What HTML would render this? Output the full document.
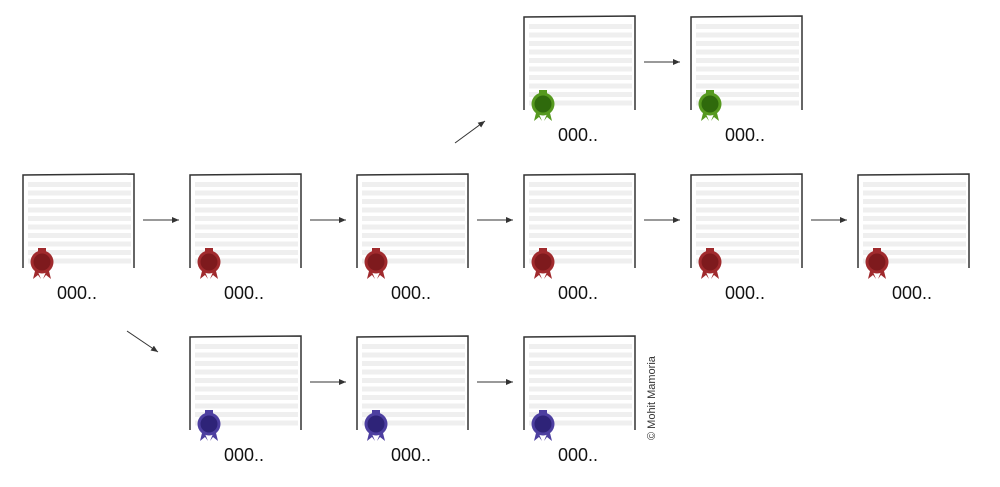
<!DOCTYPE html>
<html><head><meta charset="utf-8"><style>
body{margin:0;background:#fff;width:1000px;height:482px;overflow:hidden;font-family:"Liberation Sans",sans-serif}
</style></head><body>
<svg id="s" width="1000" height="482" viewBox="0 0 1000 482">
<defs><marker id="ah" markerWidth="8" markerHeight="8" refX="7" refY="4" orient="auto"><path d="M0,1 L7,4 L0,7 Z" fill="#333"/></marker></defs>
<text x="655" y="440" transform="rotate(-90 655 440)" font-size="11" fill="#333" font-family="Liberation Sans, sans-serif">© Mohit Mamoria</text>
</svg>
<script>
const colX=[23,190,357,524,691,858];
const rows=[{top:175,cols:[0,1,2,3,4,5],color:'#7e1a1d',light:'#a02a2d'},{top:17,cols:[3,4],color:'#2f6a0c',light:'#56991f'},{top:337,cols:[1,2,3],color:'#2e2378',light:'#4d3fa0'}];
const s=document.getElementById('s');
const NS='http://www.w3.org/2000/svg';
function el(t,a,p){const e=document.createElementNS(NS,t);for(const k in a)e.setAttribute(k,a[k]);(p||s).appendChild(e);return e;}
rows.forEach((r,ri)=>{
 r.cols.forEach((c,i)=>{
  const x=colX[c],y=r.top;
  const g=el('g',{});
  
  
  for(let k=0;k<10;k++){el('rect',{x:x+5,y:y+7+k*8.5,width:103,height:5,fill:'#efefef'},g);}
  el('path',{d:`M${x},${y+93} L${x},${y} L${x+111},${y-1} L${x+111},${y+93}`,fill:'none',stroke:'#333','stroke-width':1.5},g);
  const cx=x+19,cy=y+87;
  el('path',{d:`M${cx-6},${cy+5} L${cx-9},${cy+17} L${cx-4},${cy+13} L${cx-1},${cy+17} Z M${cx+6},${cy+5} L${cx+9},${cy+17} L${cx+4},${cy+13} L${cx+1},${cy+17} Z`,fill:r.light},g);
  el('circle',{cx:cx,cy:cy,r:11.5,fill:r.light},g);
  el('circle',{cx:cx,cy:cy,r:8.5,fill:r.color},g);
  el('rect',{x:cx-4,y:cy-14,width:8,height:4,fill:r.light},g);
  const t=el('text',{x:x+34,y:y+124,'font-size':18,fill:'#111'},g);
  
  
  t.textContent='000..';
  if(i<r.cols.length-1){
   const ay=y+45;
   const a=el('line',{x1:x+120,y1:ay,x2:colX[r.cols[i+1]]-11,y2:ay,stroke:'#333','stroke-width':1,'marker-end':'url(#ah)'});
   
   
  }
 });
});
const d1=el('line',{x1:455,y1:143,x2:485,y2:121,stroke:'#333','stroke-width':1,'marker-end':'url(#ah)'});


const d2=el('line',{x1:127,y1:331,x2:158,y2:352,stroke:'#333','stroke-width':1,'marker-end':'url(#ah)'});


</script>
</body></html>
